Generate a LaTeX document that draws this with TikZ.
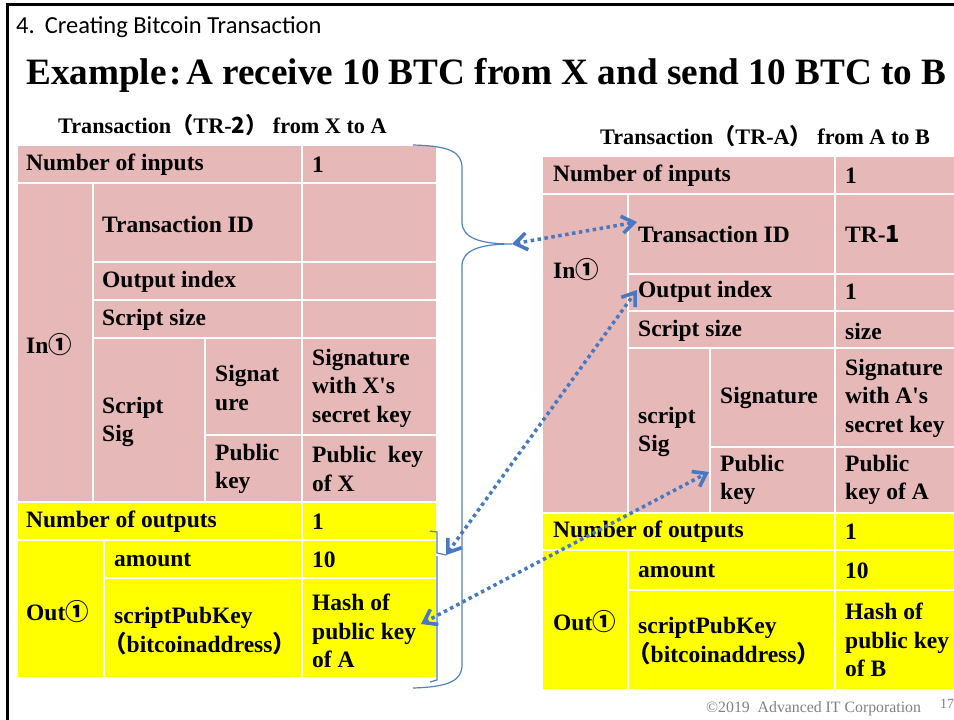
\documentclass[tikz,border=0pt]{standalone}
\usepackage{fontspec}
\setmainfont{Liberation Serif}
\newfontfamily\cjk{Noto Sans CJK JP}
\newfontfamily\headfont{Carlito}
\usetikzlibrary{arrows.meta}

\definecolor{pinkcell}{RGB}{230,184,183}
\definecolor{yelcell}{RGB}{255,255,0}
\definecolor{bracecol}{RGB}{79,129,189}
\definecolor{arrowcol}{RGB}{70,120,195}
\definecolor{footgray}{RGB}{128,128,128}

\newcommand\circone{{\cjk ①}}
\newcommand\squote{\textquotesingle}
\newcommand\lparen{{\cjk （}}
\newcommand\rparen{{\cjk ）}}

\tikzset{
  pinkc/.style={fill=pinkcell, draw=white, line width=2.5pt},
  yelc/.style={fill=yelcell, draw=white, line width=2.5pt},
  lbl/.style={anchor=west, inner sep=0pt, align=left,
    font=\fontsize{23.5}{28.5}\selectfont\bfseries},
  subtitle/.style={anchor=base west, inner sep=0pt,
    font=\fontsize{22.2}{24}\selectfont\bfseries},
  bracestyle/.style={draw=bracecol, line width=1.2pt},
  barbtip/.tip={Straight Barb[length=12pt,width=17pt,line width=3.6pt]},
  dotarrow/.style={draw=arrowcol, line width=3.5pt,
    dash pattern=on 3.5pt off 3.5pt, barbtip-barbtip},
}

\begin{document}
\begin{tikzpicture}[x=1pt,y=-1pt]
\useasboundingbox (0,0) rectangle (954,720);

% page frame
\draw[line width=3pt] (7.5,720) -- (7.5,4.5) -- (954,4.5);

% headings
\node[anchor=base west, inner sep=0pt, font=\headfont\fontsize{24.5}{26}\selectfont]
  (section) at (16,34) {4.\hspace{10pt}Creating Bitcoin Transaction};
\node[anchor=base west, inner sep=0pt, font=\fontsize{37.2}{40}\selectfont\bfseries]
  (title) at (26,84) {Example\kern3pt:\kern4pt A receive 10 BTC from X and send 10 BTC to B};
\node[subtitle] (subL) at (58,133) {Transaction\lparen TR-{\cjk 2}\rparen\ from X to A};
\node[subtitle] (subR) at (600,144) {Transaction\lparen TR-A\rparen\ from A to B};

% ---------- transaction TR-2 (left table) ----------
\path[pinkc] (17,145) rectangle (302,183);
\path[pinkc] (302,145) rectangle (437,183);
\path[pinkc] (17,183) rectangle (93,502);
\path[pinkc] (93,183) rectangle (302,262);
\path[pinkc] (302,183) rectangle (437,262);
\path[pinkc] (93,262) rectangle (302,300);
\path[pinkc] (302,262) rectangle (437,300);
\path[pinkc] (93,300) rectangle (302,338);
\path[pinkc] (302,300) rectangle (437,338);
\path[pinkc] (93,338) rectangle (205,502);
\path[pinkc] (205,338) rectangle (302,435);
\path[pinkc] (302,338) rectangle (437,435);
\path[pinkc] (205,435) rectangle (302,502);
\path[pinkc] (302,435) rectangle (437,502);
\path[yelc] (17,502) rectangle (302,540);
\path[yelc] (302,502) rectangle (437,540);
\path[yelc] (17,540) rectangle (104,678);
\path[yelc] (104,540) rectangle (302,578);
\path[yelc] (302,540) rectangle (437,578);
\path[yelc] (104,578) rectangle (302,678);
\path[yelc] (302,578) rectangle (437,678);

\node[lbl] (lNin)   at (26,165)  {Number of inputs};
\node[lbl] (lNinV)  at (312,165) {1};
\node[lbl] (lIn)    at (26,345)  {In\circone};
\node[lbl] (lTid)   at (102,224) {Transaction ID};
\node[lbl] (lOidx)  at (102,282) {Output index};
\node[lbl] (lSsz)   at (102,320) {Script size};
\node[lbl] (lSsig)  at (102,422) {Script\\Sig};
\node[lbl] (lSig)   at (215,388) {Signat\\ure};
\node[lbl] (lSigV)  at (312,388) {Signature\\with X\squote s\\secret key};
\node[lbl] (lPk)    at (215,469) {Public\\key};
\node[lbl] (lPkV)   at (312,469) {Public\ \ key\\of X};
\node[lbl] (lNout)  at (26,522)  {Number of outputs};
\node[lbl] (lNoutV) at (312,522) {1};
\node[lbl] (lOut)   at (26,612)  {Out\circone};
\node[lbl] (lAmt)   at (114,560) {amount};
\node[lbl] (lAmtV)  at (312,560) {10};
\node[lbl] (lSpk)   at (114,631) {scriptPubKey\\\kern-11pt\lparen bitcoinaddress\rparen};
\node[lbl] (lSpkV)  at (312,631) {Hash of\\public key\\of A};

% ---------- transaction TR-A (right table) ----------
\path[pinkc] (542,156) rectangle (835,194);
\path[pinkc] (835,156) rectangle (958,194);
\path[pinkc] (542,194) rectangle (628,513);
\path[pinkc] (628,194) rectangle (835,274);
\path[pinkc] (835,194) rectangle (958,274);
\path[pinkc] (628,274) rectangle (835,311);
\path[pinkc] (835,274) rectangle (958,311);
\path[pinkc] (628,311) rectangle (835,348);
\path[pinkc] (835,311) rectangle (958,348);
\path[pinkc] (628,348) rectangle (710,513);
\path[pinkc] (710,348) rectangle (835,447);
\path[pinkc] (835,348) rectangle (958,447);
\path[pinkc] (710,447) rectangle (835,513);
\path[pinkc] (835,447) rectangle (958,513);
\path[yelc] (542,513) rectangle (835,550);
\path[yelc] (835,513) rectangle (958,550);
\path[yelc] (542,550) rectangle (628,690);
\path[yelc] (628,550) rectangle (835,590);
\path[yelc] (835,550) rectangle (958,590);
\path[yelc] (628,590) rectangle (835,690);
\path[yelc] (835,590) rectangle (958,690);

\node[lbl] (rNin)   at (553,176) {Number of inputs};
\node[lbl] (rNinV)  at (845,176) {1};
\node[lbl] (rIn)    at (553,270) {In\circone};
\node[lbl] (rTid)   at (638,234) {Transaction ID};
\node[lbl] (rTidV)  at (845,234) {TR-{\cjk 1}};
\node[lbl] (rOidx)  at (638,292) {Output index};
\node[lbl] (rOidxV) at (845,292) {1};
\node[lbl] (rSsz)   at (638,331) {Script size};
\node[lbl] (rSszV)  at (845,331) {size};
\node[lbl] (rSsig)  at (638,432) {script\\Sig};
\node[lbl] (rSig)   at (720,398) {Signature};
\node[lbl] (rSigV)  at (845,398) {Signature\\with A\squote s\\secret key};
\node[lbl] (rPk)    at (720,480) {Public\\key};
\node[lbl] (rPkV)   at (845,480) {Public\\key of A};
\node[lbl] (rNout)  at (553,532) {Number of outputs};
\node[lbl] (rNoutV) at (845,532) {1};
\node[lbl] (rOut)   at (553,622) {Out\circone};
\node[lbl] (rAmt)   at (638,571) {amount};
\node[lbl] (rAmtV)  at (845,571) {10};
\node[lbl] (rSpk)   at (638,641) {scriptPubKey\\\kern-11pt\lparen bitcoinaddress\rparen};
\node[lbl] (rSpkV)  at (845,640) {Hash of\\public key\\of B};

% ---------- braces grouping the left transaction ----------
\coordinate (braceTip) at (512,244);
\draw[bracestyle] (413,145) .. controls (450,146) and (462,152) .. (462,168)
  -- (462,222) .. controls (462,238) and (480,244) .. (braceTip)
  .. controls (480,244) and (462,250) .. (462,266)
  -- (462,665) .. controls (462,680) and (450,687) .. (413,688);

\coordinate (outTip) at (446,555);
\draw[bracestyle] (430,531) -- (437,532) -- (437,553) -- (outTip);
\draw[bracestyle] (437,556) -- (437,680) -- (430,682);

% ---------- references between the two transactions ----------
\coordinate (tidEnd)  at (637,222);
\coordinate (oidxEnd) at (637,290);
\coordinate (pkEnd)   at (709,472);
\coordinate (hashEnd) at (421,624);
\draw[dotarrow] (braceTip) -- (tidEnd);
\draw[dotarrow] (outTip) -- (oidxEnd);
\draw[dotarrow] (hashEnd) -- (pkEnd);

% footer
\node[anchor=base west, inner sep=0pt, text=footgray, font=\fontsize{15.8}{17}\selectfont]
  (copy) at (706,712) {©2019\ \ Advanced IT Corporation};
\node[anchor=base west, inner sep=0pt, text=footgray, font=\fontsize{14}{15}\selectfont]
  (pageno) at (940,708) {17};
\end{tikzpicture}
\end{document}
